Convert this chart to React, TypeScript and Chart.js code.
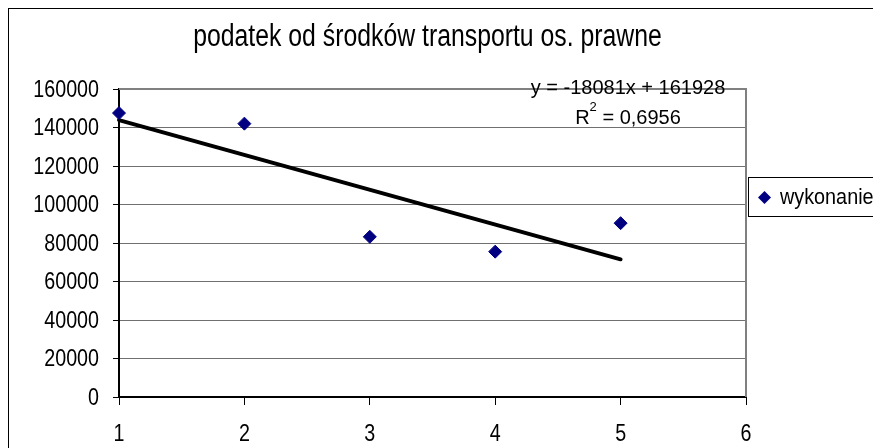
import React, { useEffect, useRef } from "react";
import { Chart, registerables } from "chart.js";

Chart.register(...registerables);

const TITLE = "podatek od środków transportu os. prawne";
const SERIES_LABEL = "wykonanie";
const xValues = [1, 2, 3, 4, 5];
const yValues = [147500, 142000, 83200, 75500, 90300];
const trendSlope = -18081;
const trendIntercept = 161928;
const trendX = [1, 5];
const equationText = "y = -18081x + 161928";
const r2Value = "0,6956";
const yTicks = [0, 20000, 40000, 60000, 80000, 100000, 120000, 140000, 160000];
const xTicks = [1, 2, 3, 4, 5, 6];

const FONT = "'Liberation Sans', Arial, sans-serif";
const NARROW = 0.82;

function narrowText(
  ctx: CanvasRenderingContext2D,
  text: string,
  x: number,
  y: number,
  align: CanvasTextAlign,
  baseline: CanvasTextBaseline,
  sx: number = NARROW
) {
  ctx.save();
  ctx.textAlign = align;
  ctx.textBaseline = baseline;
  ctx.translate(x, y);
  ctx.scale(sx, 1);
  ctx.fillText(text, 0, 0);
  ctx.restore();
}

const decorPlugin = {
  id: "decor",
  afterDraw(chart: any) {
    const ctx = chart.ctx as CanvasRenderingContext2D;
    const area = chart.chartArea;
    ctx.save();
    // plot border top/right
    ctx.strokeStyle = "#808080";
    ctx.lineWidth = 2;
    ctx.beginPath();
    ctx.moveTo(area.left, area.top);
    ctx.lineTo(area.right, area.top);
    ctx.lineTo(area.right, area.bottom);
    ctx.stroke();

    ctx.fillStyle = "#000";
    // title
    ctx.font = `31px ${FONT}`;
    narrowText(ctx, TITLE, 418.5, 37, "center", "alphabetic", 0.8);

    // tick labels (narrow font)
    ctx.font = `24px ${FONT}`;
    const ys = chart.scales.y;
    ys.ticks.forEach((t: any) => {
      const py = ys.getPixelForValue(t.value);
      narrowText(ctx, String(t.value), 90, py + 1, "right", "middle");
    });
    const xs = chart.scales.x;
    xs.ticks.forEach((t: any) => {
      const px = xs.getPixelForValue(t.value);
      narrowText(ctx, String(t.value), px, 432, "center", "alphabetic");
    });

    // equation
    ctx.font = `20px ${FONT}`;
    ctx.textAlign = "center";
    ctx.textBaseline = "alphabetic";
    ctx.fillText(equationText, 619, 85);

    // R^2
    const pre = "R";
    const post = " = " + r2Value;
    ctx.font = `20px ${FONT}`;
    const wPre = ctx.measureText(pre).width;
    const wPost = ctx.measureText(post).width;
    ctx.font = `13px ${FONT}`;
    const wSup = ctx.measureText("2").width;
    const total = wPre + wSup + wPost;
    const x0 = 619 - total / 2;
    ctx.textAlign = "left";
    ctx.font = `20px ${FONT}`;
    ctx.fillText(pre, x0, 115);
    ctx.font = `13px ${FONT}`;
    ctx.fillText("2", x0 + wPre, 102);
    ctx.font = `20px ${FONT}`;
    ctx.fillText(post, x0 + wPre + wSup, 115);

    // legend
    const lx = 739, ly = 168, lh = 39;
    ctx.strokeStyle = "#000";
    ctx.lineWidth = 1;
    ctx.strokeRect(lx + 0.5, ly + 0.5, 200, lh);
    const ds = chart.data.datasets[0];
    const cx = 755.5, cy = 188.5, r = 6.5;
    ctx.fillStyle = ds.backgroundColor;
    ctx.beginPath();
    ctx.moveTo(cx, cy - r);
    ctx.lineTo(cx + r, cy);
    ctx.lineTo(cx, cy + r);
    ctx.lineTo(cx - r, cy);
    ctx.closePath();
    ctx.fill();
    ctx.fillStyle = "#000";
    ctx.font = `22px ${FONT}`;
    narrowText(ctx, ds.label, 771, 189, "left", "middle", 0.9);
    ctx.restore();
  },
};

export default function App() {
  const ref = useRef<HTMLCanvasElement | null>(null);
  useEffect(() => {
    if (!ref.current) return;
    const points = xValues.map((x, i) => ({ x, y: yValues[i] }));
    const trend = trendX.map((x) => ({ x, y: trendSlope * x + trendIntercept }));
    const chart = new Chart(ref.current, {
      type: "scatter",
      data: {
        datasets: [
          {
            label: SERIES_LABEL,
            data: points,
            pointStyle: "rectRot",
            pointRadius: 6.5,
            pointHoverRadius: 6.5,
            backgroundColor: "#000080",
            borderColor: "#000080",
            borderWidth: 1,
            clip: false,
          } as any,
          {
            type: "line",
            label: "trend",
            data: trend,
            borderColor: "#000",
            borderWidth: 4,
            borderCapStyle: "round",
            pointRadius: 0,
            showLine: true,
            fill: false,
            clip: false,
          } as any,
        ],
      },
      options: {
        responsive: false,
        animation: false,
        layout: { padding: { top: 80, right: 135, left: 0, bottom: 0 } },
        plugins: {
          legend: { display: false },
          title: { display: false },
          tooltip: { enabled: false },
        },
        scales: {
          x: {
            type: "linear",
            min: 1,
            max: 6,
            afterBuildTicks: (s: any) => {
              s.ticks = xTicks.map((v) => ({ value: v }));
            },
            afterFit: (s: any) => {
              s.height = 51;
            },
            grid: {
              drawOnChartArea: false,
              drawTicks: true,
              tickLength: 8,
              tickColor: "#000",
              tickWidth: 1,
            },
            border: { color: "#000", width: 2 },
            ticks: { display: false },
          },
          y: {
            type: "linear",
            min: 0,
            max: 160000,
            afterBuildTicks: (s: any) => {
              s.ticks = yTicks.map((v) => ({ value: v }));
            },
            afterFit: (s: any) => {
              s.width = 110;
            },
            grid: {
              color: "#707070",
              lineWidth: 1,
              drawTicks: true,
              tickLength: 6,
              tickColor: "#000",
              tickWidth: 1,
            },
            border: { color: "#000", width: 2 },
            ticks: { display: false },
          },
        },
      },
      plugins: [decorPlugin],
    });
    return () => chart.destroy();
  }, []);
  return (
    <div
      style={{
        width: 873,
        height: 440,
        borderLeft: "1px solid #000",
        borderTop: "1px solid #000",
        overflow: "hidden",
        background: "#fff",
      }}
    >
      <canvas ref={ref} width={872} height={439} style={{ display: "block" }} />
    </div>
  );
}
